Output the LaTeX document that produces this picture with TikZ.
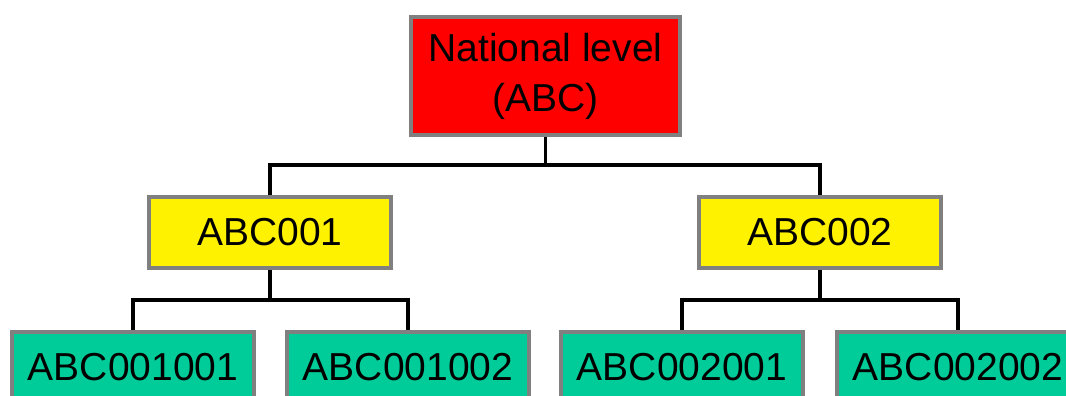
\documentclass[tikz,border=0pt]{standalone}
\usepackage{fontspec}
\setmainfont{Liberation Sans}
\definecolor{nodegreen}{HTML}{00CC99}
\definecolor{bordergray}{HTML}{808080}
\begin{document}
\begin{tikzpicture}[x=1pt,y=-1pt,
  box/.style={draw=bordergray,line width=3.5pt,inner sep=0pt,align=center,
    font=\fontsize{39}{50}\selectfont},
  topbox/.style={box,fill=red,minimum width=269pt,minimum height=118pt},
  midbox/.style={box,fill=yellow,minimum width=242pt,minimum height=71pt},
  lowbox/.style={box,fill=nodegreen,minimum width=242pt,minimum height=70pt},
  link/.style={draw=black,line width=3.5pt}]
\useasboundingbox (0,0) rectangle (1066,396);
\clip (0,0) rectangle (1066,396);
\node[topbox] (top) at (545.5,76) {National level\\(ABC)};
\node[midbox] (m1) at (270,232.5) {ABC001};
\node[midbox] (m2) at (820,232.5) {ABC002};
\node[lowbox] (b1) at (133,367) {ABC001001};
\node[lowbox] (b2) at (408,367) {ABC001002};
\node[lowbox] (b3) at (682,367) {ABC002001};
\node[lowbox] (b4) at (958,367) {ABC002002};
\coordinate (j0) at (545.5,165);
\coordinate (j1) at (270,300);
\coordinate (j2) at (820,300);
\draw[link] (top.south) -- (j0);
\draw[link] (m1.north) |- (j0) -| (m2.north);
\draw[link] (m1.south) -- (j1);
\draw[link] (b1.north) |- (j1) -| (b2.north);
\draw[link] (m2.south) -- (j2);
\draw[link] (b3.north) |- (j2) -| (b4.north);
\end{tikzpicture}
\end{document}
